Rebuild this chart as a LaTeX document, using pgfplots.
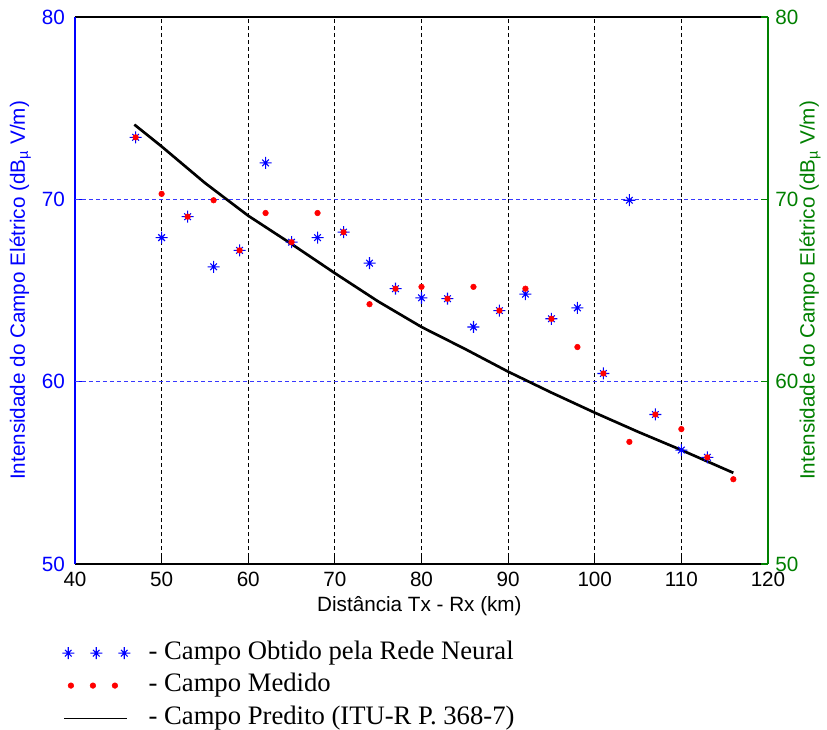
\documentclass[border=0pt]{standalone}
\usepackage{fontspec}
\setmainfont{Liberation Sans}
\newfontfamily\legfont{Liberation Serif}
\usepackage{pgfplots}
\pgfplotsset{compat=1.18}
\definecolor{mgreen}{rgb}{0,0.5,0}
\definecolor{mblue}{rgb}{0,0,1}
\definecolor{gblue}{rgb}{0.22,0.22,1}
\pgfdeclareplotmark{mstar}{%
  \pgfpathmoveto{\pgfqpoint{-\pgfplotmarksize}{0pt}}\pgfpathlineto{\pgfqpoint{\pgfplotmarksize}{0pt}}%
  \pgfpathmoveto{\pgfqpoint{0pt}{-\pgfplotmarksize}}\pgfpathlineto{\pgfqpoint{0pt}{\pgfplotmarksize}}%
  \pgfpathmoveto{\pgfqpoint{-.55\pgfplotmarksize}{-.55\pgfplotmarksize}}\pgfpathlineto{\pgfqpoint{.55\pgfplotmarksize}{.55\pgfplotmarksize}}%
  \pgfpathmoveto{\pgfqpoint{-.55\pgfplotmarksize}{.55\pgfplotmarksize}}\pgfpathlineto{\pgfqpoint{.55\pgfplotmarksize}{-.55\pgfplotmarksize}}%
  \pgfusepathqstroke}
\pgfplotsset{
  vgrid/.style={forget plot, draw=black, solid, dash pattern=on 3pt off 2.2pt, line width=0.7pt},
  hgrid/.style={forget plot, draw=gblue, solid, dash pattern=on 3pt off 2.25pt, line width=1.1pt},
}
\begin{document}
\begin{tikzpicture}
\path[use as bounding box, fill=white] (-56.25pt,-123.75pt) rectangle (564pt,423pt);
\begin{axis}[
  at={(0pt,0pt)}, anchor=south west,
  scale only axis, width=519.75pt, height=410.25pt,
  xmin=40, xmax=120, ymin=50, ymax=80,
  xtick={40,50,...,120}, ytick={50,60,70,80},
  axis x line*=box, axis y line*=left,
  xtick pos=left,
  tick align=inside,
  major tick length=5pt,
  x axis line style={black, line width=0.8pt, -},
  y axis line style={mblue, line width=0.8pt, -},
  xtick style={black, line width=0.8pt},
  ytick style={mblue, line width=0.8pt},
  /pgf/number format/assume math mode=true,
  tick label style={font=\fontsize{15.5}{18}\selectfont},
  x tick label style={yshift=-2.5pt},
  y tick label style={mblue, xshift=-4pt},
  xlabel={Distância Tx - Rx (km)},
  ylabel={Intensidade do Campo Elétrico (dB\textsubscript{µ} V/m)},
  every axis x label/.style={at={(axis description cs:0.497,-0.0768)}, anchor=center, font=\fontsize{15.5}{18}\selectfont},
  every axis y label/.style={at={(axis description cs:-0.0789,0.5)}, anchor=center, rotate=90, mblue, font=\fontsize{15.5}{18}\selectfont},
  legend style={at={(axis description cs:-0.01875,-0.14)}, anchor=north west,
    draw=none, fill=none, inner sep=0pt, column sep=12.25pt, row sep=5.8pt,
    font=\legfont\fontsize{20}{24}\selectfont,
    nodes={inner sep=0pt, text height=14pt, text depth=4.5pt}},
  legend cell align=left,
]
% grid lines, drawn as dashed reference lines
\addplot[vgrid] coordinates {(50,50) (50,80)};
\addplot[vgrid] coordinates {(60,50) (60,80)};
\addplot[vgrid] coordinates {(70,50) (70,80)};
\addplot[vgrid] coordinates {(80,50) (80,80)};
\addplot[vgrid] coordinates {(90,50) (90,80)};
\addplot[vgrid] coordinates {(100,50) (100,80)};
\addplot[vgrid] coordinates {(110,50) (110,80)};
\addplot[hgrid] coordinates {(40,60) (120,60)};
\addplot[hgrid] coordinates {(40,70) (120,70)};
\addplot[only marks, mark=mstar, mark size=4.5pt, mblue, line width=0.8pt,
  legend image code/.code={\draw[only marks] plot coordinates {(3pt,0pt) (24pt,0pt) (45pt,0pt)}; \path (0pt,0pt) (50pt,0pt);}]
coordinates {
(47,73.4) (50,67.9) (53,69.05) (56,66.3) (59,67.2) (62,72.0) (65,67.65) (68,67.9)
(71,68.2) (74,66.5) (77,65.1) (80,64.6) (83,64.55) (86,63.0) (89,63.9) (92,64.8)
(95,63.45) (98,64.05) (101,60.45) (104,69.95) (107,58.2) (110,56.25) (113,55.85)
};
\addlegendentry{- Campo Obtido pela Rede Neural}
\addplot[only marks, mark=*, mark size=2.1pt, red, mark options={fill=red, draw=red},
  legend image code/.code={\draw[only marks] plot coordinates {(5pt,0pt) (21.5pt,0pt) (38pt,0pt)}; \path (0pt,0pt) (50pt,0pt);}]
coordinates {
(47,73.4) (50,70.3) (53,69.05) (56,69.95) (59,67.2) (62,69.25) (65,67.65) (68,69.25)
(71,68.2) (74,64.25) (77,65.1) (80,65.2) (83,64.55) (86,65.2) (89,63.9) (92,65.1)
(95,63.45) (98,61.9) (101,60.45) (104,56.7) (107,58.2) (110,57.4) (113,55.85) (116,54.65)
};
\addlegendentry{- Campo Medido}
\addplot[black, line width=2pt, no marks,
  legend image code/.code={\draw[line width=0.7pt] (0pt,0pt) -- (47pt,0pt); \path (0pt,0pt) (50pt,0pt);}]
coordinates {
(46.85,74.1) (50,72.9) (55,70.9) (60,69.1) (65,67.55) (70,65.95) (75,64.4) (80,63.0)
(85,61.8) (90,60.55) (95,59.4) (100,58.3) (105,57.25) (110,56.25) (116,55.0)
};
\addlegendentry{- Campo Predito (ITU-R P. 368-7)}
\end{axis}
\begin{axis}[
  at={(0pt,0pt)}, anchor=south west,
  scale only axis, width=519.75pt, height=410.25pt,
  xmin=40, xmax=120, ymin=50, ymax=80,
  ytick={50,60,70,80},
  axis x line=none, axis y line*=right,
  tick align=inside,
  major tick length=5pt,
  y axis line style={mgreen, line width=0.8pt, -},
  ytick style={mgreen, line width=0.8pt},
  /pgf/number format/assume math mode=true,
  tick label style={font=\fontsize{15.5}{18}\selectfont, mgreen, xshift=2pt},
  ylabel={Intensidade do Campo Elétrico (dB\textsubscript{µ} V/m)},
  every axis y label/.style={at={(axis description cs:1.0606,0.5)}, anchor=center, rotate=90, mgreen, font=\fontsize{15.5}{18}\selectfont},
]
\addplot[draw=none, forget plot] coordinates {(40,50) (120,80)};
\end{axis}
\end{tikzpicture}
\end{document}
